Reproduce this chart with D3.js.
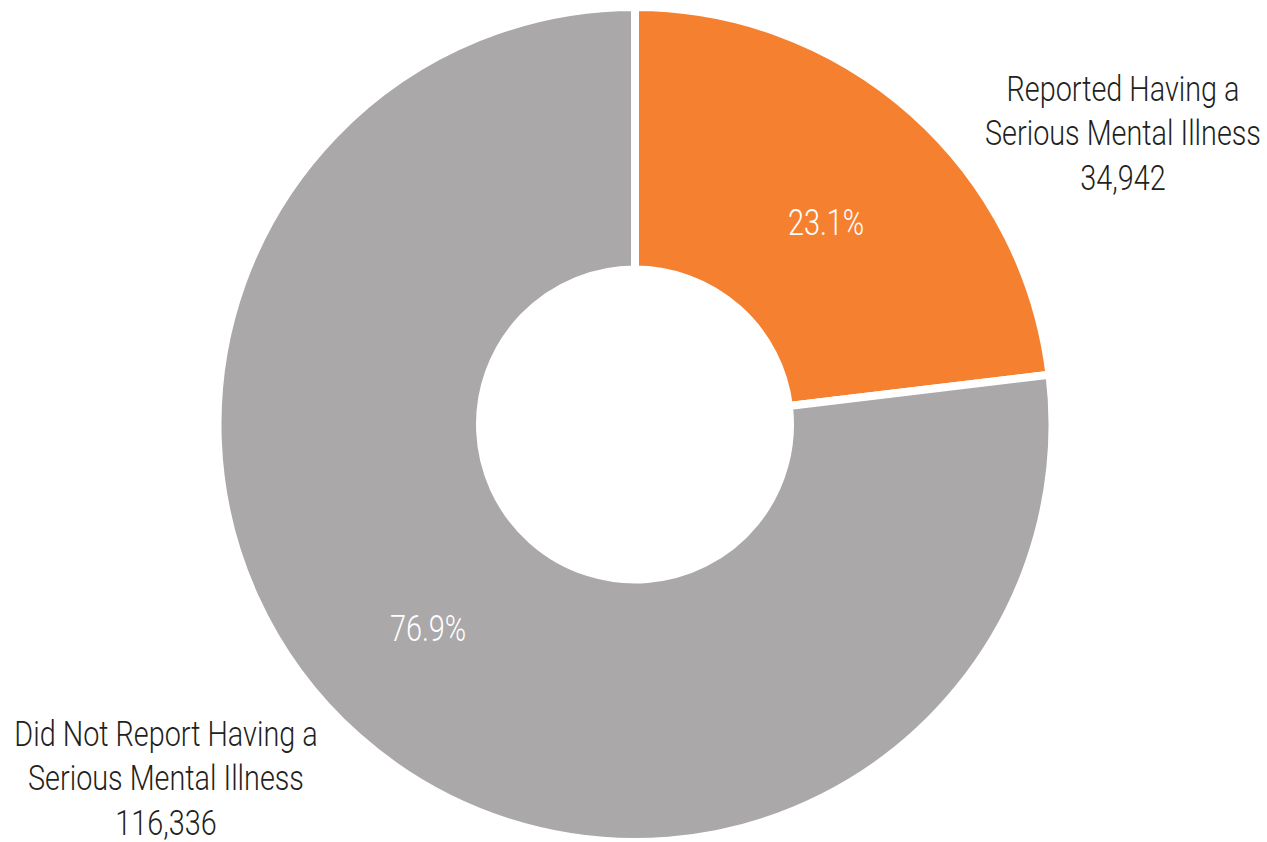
<!DOCTYPE html>
<html>
<head>
<meta charset="utf-8">
<script src="https://cdn.jsdelivr.net/npm/d3@7"></script>
<style>
  html, body { margin: 0; padding: 0; background: #ffffff; }
  svg { display: block; }
  text { font-family: Roboto, "Liberation Sans Narrow", sans-serif; font-weight: 300; }
</style>
</head>
<body>
<svg id="chart" width="1267" height="842"></svg>
<script>
// Survey respondents by serious-mental-illness status
const categories = ["Reported Having a Serious Mental Illness", "Did Not Report Having a Serious Mental Illness"];
const labelLines = [["Reported Having a", "Serious Mental Illness"], ["Did Not Report Having a", "Serious Mental Illness"]];
const counts = [34942, 116336];
const percentLabels = ["23.1%", "76.9%"];
const colors = ["#f58130", "#aaa8a9"];

const W = 1267, H = 842;
const cx = 635, cy = 424.5;
const outerR = 417.5, innerR = 155;

const svg = d3.select("#chart");

const pie = d3.pie().sort(null).value(d => d)(counts);
const arc = d3.arc().innerRadius(innerR).outerRadius(outerR);

const g = svg.append("g").attr("transform", `translate(${cx},${cy})`);

g.selectAll("path.slice")
  .data(pie)
  .join("path")
  .attr("class", "slice")
  .attr("d", arc)
  .attr("fill", (d, i) => colors[i])
  .attr("stroke", "#ffffff")
  .attr("stroke-width", 8)
  .attr("stroke-linejoin", "miter");

// condensed look: squeeze text horizontally about its anchor
function condense(sel, x, y, scale) {
  sel.attr("transform", `translate(${x},${y}) scale(${scale},1)`);
}

// percentage labels inside the ring (offsets from the ring centre)
const pctPos = [[191, -202], [-207, 204]];
pie.forEach((d, i) => {
  const grp = g.append("g");
  grp.append("text")
    .attr("text-anchor", "middle")
    .attr("dy", "0.35em")
    .attr("fill", "#ffffff")
    .attr("font-size", 37)
    .text(percentLabels[i]);
  condense(grp, pctPos[i][0], pctPos[i][1], 0.78);
});

// outside category labels
const fmt = d3.format(",");
const outside = [
  { x: 1123, y: 88 },
  { x: 166, y: 733 }
];
labelLines.forEach((lines, i) => {
  const grp = svg.append("g");
  const rows = lines.concat([fmt(counts[i])]);
  rows.forEach((r, j) => {
    grp.append("text")
      .attr("x", 0)
      .attr("y", j * 44.5)
      .attr("dy", "0.35em")
      .attr("text-anchor", "middle")
      .attr("fill", "#231f20")
      .attr("font-size", 36)
      .text(r);
  });
  condense(grp, outside[i].x, outside[i].y, 0.8);
});
</script>
</body>
</html>
